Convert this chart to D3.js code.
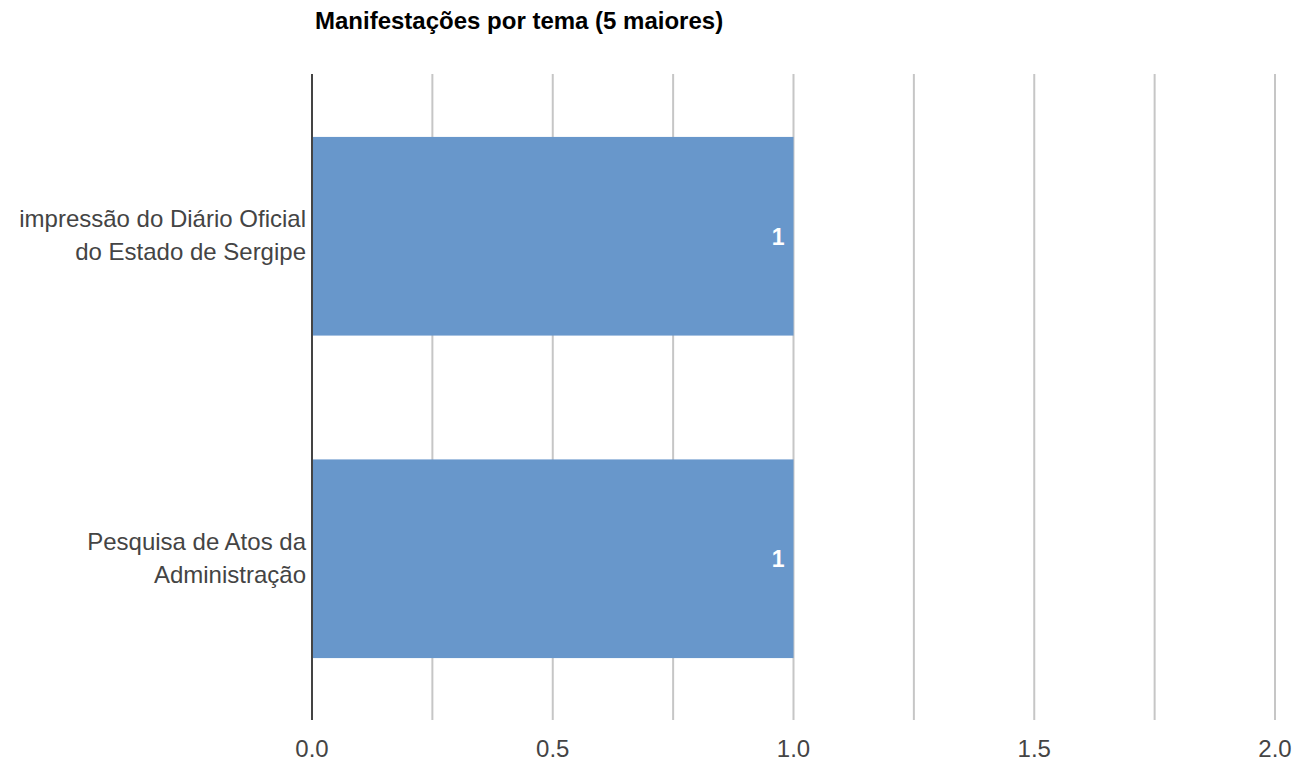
<!DOCTYPE html>
<html><head><meta charset="utf-8">
<script src="https://cdn.jsdelivr.net/npm/d3@7"></script>
<style>body{margin:0;background:#fff}svg{display:block}text{font-family:"Liberation Sans",Arial,sans-serif}</style>
</head><body>
<svg id="c" width="1297" height="761"></svg>
<script>
const title = "Manifestações por tema (5 maiores)";
const categories = [["impressão do Diário Oficial","do Estado de Sergipe"],["Pesquisa de Atos da","Administração"]];
const values = [1, 1];
const gridValues = [0,0.25,0.5,0.75,1,1.25,1.5,1.75,2];
const tickValues = [0,0.5,1,1.5,2];

const svg = d3.select("#c");
const x = d3.scaleLinear().domain([0,2]).range([312,1275]);
const y = d3.scaleBand().domain(d3.range(categories.length)).range([75,720]).paddingInner(0.384).paddingOuter(0.192);

svg.append("text").attr("x",315).attr("y",29).attr("font-size",24).attr("font-weight","bold").attr("fill","#000").text(title);

svg.append("g").selectAll("line").data(gridValues.filter(d=>d>0)).join("line")
  .attr("x1",d=>x(d)).attr("x2",d=>x(d)).attr("y1",74).attr("y2",720)
  .attr("stroke","#c6c6c6").attr("stroke-width",2);

svg.append("g").selectAll("rect").data(values).join("rect")
  .attr("x",x(0)).attr("y",(d,i)=>y(i)).attr("width",d=>x(d)-x(0)).attr("height",y.bandwidth())
  .attr("fill","#6897cb");

svg.append("line").attr("x1",x(0)).attr("x2",x(0)).attr("y1",74).attr("y2",720).attr("stroke","#444").attr("stroke-width",2);

svg.append("g").selectAll("text").data(values).join("text")
  .attr("x",d=>x(d)-9).attr("y",(d,i)=>y(i)+y.bandwidth()/2+8.5)
  .attr("text-anchor","end").attr("font-size",23).attr("font-weight","bold").attr("fill","#fff").text(d=>d);

const lab = svg.append("g").selectAll("text").data(categories).join("text")
  .attr("text-anchor","end").attr("font-size",24).attr("fill","#444");
lab.each(function(d,i){
  const c = y(i)+y.bandwidth()/2;
  d3.select(this).selectAll("tspan").data(d).join("tspan")
    .attr("x",306).attr("y",(t,j)=>c-9+j*33).text(t=>t);
});

svg.append("g").selectAll("text").data(tickValues).join("text")
  .attr("x",d=>x(d)).attr("y",757).attr("text-anchor","middle").attr("font-size",24).attr("fill","#444")
  .text(d=>d3.format(".1f")(d));
</script>
</body></html>
